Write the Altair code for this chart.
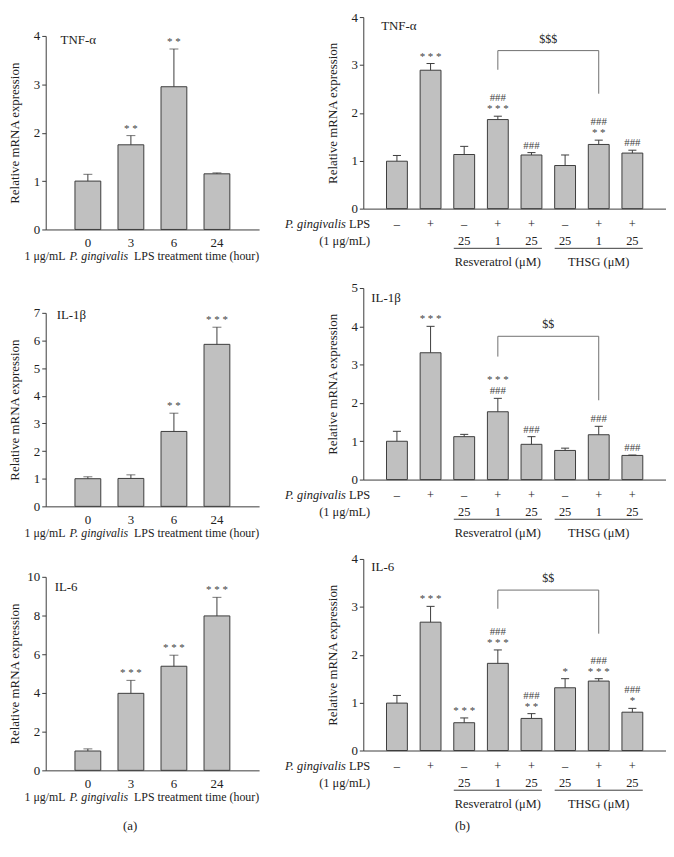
import altair as alt
import pandas as pd

SERIF = "Liberation Serif"
BAR_FILL = "#c0c0c0"
EDGE = "#3c3c3c"
BRACKET = "#707070"
TXT = "#222222"
STAR = "#444444"

# ---------------- data: panel (a) ----------------
left_times = ["0", "3", "6", "24"]

left_tnf_mean = [1.00, 1.75, 2.95, 1.15]
left_tnf_err = [1.14, 1.94, 3.73, 1.17]
left_tnf_sig = ["", "**", "**", ""]

left_il1b_mean = [1.00, 1.01, 2.71, 5.86]
left_il1b_err = [1.07, 1.14, 3.37, 6.48]
left_il1b_sig = ["", "", "**", "***"]

left_il6_mean = [1.00, 3.98, 5.38, 7.98]
left_il6_err = [1.11, 4.65, 5.95, 8.94]
left_il6_sig = ["", "***", "***", "***"]

# ---------------- data: panel (b) ----------------
right_pos = [1, 2, 3, 4, 5, 6, 7, 8]
right_lps = ["–", "+", "–", "+", "+", "–", "+", "+"]
right_dose = ["", "", "25", "1", "25", "25", "1", "25"]
group_names = ["Resveratrol (μM)", "THSG (μM)"]
group_first = [3, 6]
group_last = [5, 8]

right_tnf_mean = [0.99, 2.89, 1.13, 1.86, 1.12, 0.90, 1.34, 1.16]
right_tnf_err = [1.11, 3.03, 1.30, 1.93, 1.17, 1.12, 1.43, 1.22]
right_tnf_sig = ["", "***", "", "###\n***", "###", "", "###\n**", "###"]
right_tnf_bracket = [4, 7, 3.30, 2.90, 2.40, "$$$"]

right_il1b_mean = [1.00, 3.31, 1.12, 1.77, 0.92, 0.76, 1.17, 0.63]
right_il1b_err = [1.26, 4.00, 1.18, 2.12, 1.12, 0.82, 1.39, 0.64]
right_il1b_sig = ["", "***", "", "***\n###", "###", "", "###", "###"]
right_il1b_bracket = [4, 7, 3.74, 3.21, 2.07, "$$"]

right_il6_mean = [0.99, 2.68, 0.58, 1.82, 0.67, 1.31, 1.45, 0.80]
right_il6_err = [1.15, 3.01, 0.68, 2.10, 0.77, 1.50, 1.50, 0.88]
right_il6_sig = ["", "***", "***", "###\n***", "###\n**", "*", "###\n***", "###\n*"]
right_il6_bracket = [4, 7, 3.35, 2.96, 2.44, "$$"]


def spaced(line):
    return " ".join(line) if "*" in line else line


def sig_lines(sigs):
    lo, hi = [], []
    for s in sigs:
        parts = s.split("\n")
        lo.append(spaced(parts[-1]))
        hi.append(spaced(parts[0]) if len(parts) > 1 else "")
    return lo, hi


def y_axis(values, ymid):
    return alt.Axis(values=values, title="Relative mRNA expression", titleX=-31, titleY=ymid,
                    titleAngle=270, titleBaseline="middle", titleAlign="center",
                    titleFont=SERIF, titleFontSize=13, titleFontWeight="normal", titleColor=TXT,
                    labelFont=SERIF, labelFontSize=13, labelColor=TXT, labelPadding=2,
                    tickSize=4, tickColor=EDGE, domainColor=EDGE, grid=False)


def text_at(txt, x, y, size=13, align="left", style="normal", baseline="middle"):
    return alt.Chart(pd.DataFrame({"t": [txt]})).mark_text(
        font=SERIF, fontSize=size, align=align, baseline=baseline, fontStyle=style, color=TXT
    ).encode(x=alt.value(x), y=alt.value(y), text="t:N")


def star_layers(base, X, Yerr):
    lo = base.mark_text(font=SERIF, fontSize=11, color=STAR, baseline="bottom", dy=-2).encode(
        x=X, y=Yerr, text="lo:N")
    hi = base.mark_text(font=SERIF, fontSize=11, color=STAR, baseline="bottom", dy=-13).encode(
        x=X, y=Yerr, text="hi:N")
    return [lo, hi]


def left_panel(label, means, errs, sigs, ymax, ystep, lx, ly, top, ph=195, w=215, tag=None):
    # the panel is 'top' px taller than its plot; the plot occupies the bottom ph px
    H = top + ph
    lo, hi = sig_lines(sigs)
    df = pd.DataFrame({"time": left_times, "mean": means, "err": errs, "lo": lo, "hi": hi})
    xenc = alt.X("time:N", sort=left_times,
                 scale=alt.Scale(paddingInner=0.4, paddingOuter=0.68),
                 axis=alt.Axis(title=None, labelAngle=0, ticks=False, tickSize=0, labelPadding=7,
                               labelFont=SERIF, labelFontSize=13, labelColor=TXT,
                               domainColor=EDGE, grid=False))
    ysc = alt.Scale(domain=[0, ymax], range=[H, top], nice=False)
    yax = y_axis(list(range(0, ymax + 1, ystep)), top + ph / 2)

    def Y(f):
        return alt.Y(f, type="quantitative", scale=ysc, axis=yax)

    base = alt.Chart(df)
    bars = base.mark_bar(fill=BAR_FILL, stroke=EDGE, strokeWidth=1).encode(x=xenc, y=Y("mean"))
    err = base.mark_rule(color=EDGE, strokeWidth=1).encode(x=xenc, y=Y("mean"), y2="err:Q")
    cap = base.mark_tick(color=EDGE, size=9, thickness=1).encode(x=xenc, y=Y("err"))
    layers = [bars, err, cap] + star_layers(base, xenc, Y("err")) + [text_at(label, lx, top + ly)]
    ty = H + 27
    layers += [
        text_at("1 μg/mL", 20, ty, size=12, align="right"),
        text_at("P. gingivalis", 24, ty, size=12, style="italic"),
        text_at("LPS treatment time (hour)", 89, ty, size=12),
    ]
    if tag:
        layers.append(text_at(tag, 85, H + 56, align="center"))
    return alt.layer(*layers).properties(width=w, height=H)


def right_panel(label, means, errs, sigs, bracket, ymax, lx, ly, h=193, w=305, tag=None):
    lo, hi = sig_lines(sigs)
    df = pd.DataFrame({"pos": right_pos, "mean": means, "err": errs, "lo": lo, "hi": hi,
                       "lps": right_lps, "dose": right_dose})
    xsc = alt.Scale(domain=[0, 9], nice=False, zero=False)
    xax = alt.Axis(title=None, labels=False, ticks=False, grid=False, domainColor=EDGE)
    ysc = alt.Scale(domain=[0, ymax], nice=False)
    yax = y_axis(list(range(0, ymax + 1)), h / 2)

    def X(f):
        return alt.X(f, type="quantitative", scale=xsc, axis=xax)

    def Y(f):
        return alt.Y(f, type="quantitative", scale=ysc, axis=yax)

    base = alt.Chart(df)
    bars = base.transform_calculate(bx1="datum.pos - 0.31", bx2="datum.pos + 0.31", b0="0").mark_bar(
        fill=BAR_FILL, stroke=EDGE, strokeWidth=1).encode(x=X("bx1"), x2="bx2:Q", y=Y("mean"), y2="b0:Q")
    err = base.mark_rule(color=EDGE, strokeWidth=1).encode(x=X("pos"), y=Y("mean"), y2="err:Q")
    cap = base.transform_calculate(c1="datum.pos - 0.12", c2="datum.pos + 0.12").mark_rule(
        color=EDGE, strokeWidth=1).encode(x=X("c1"), x2="c2:Q", y=Y("err"))
    lps = base.mark_text(font=SERIF, fontSize=12.5, color=TXT, baseline="middle").encode(
        x=X("pos"), y=alt.value(h + 16), text="lps:N")
    dose = base.mark_text(font=SERIF, fontSize=12.5, color=TXT, baseline="middle").encode(
        x=X("pos"), y=alt.value(h + 33), text="dose:N")

    gdf = pd.DataFrame({"name": group_names, "first": group_first, "last": group_last})
    gbase = alt.Chart(gdf).transform_calculate(
        gx1="datum.first - 0.31", gx2="datum.last + 0.31", gm="(datum.first + datum.last) / 2")
    gline = gbase.mark_rule(color=EDGE, strokeWidth=1).encode(
        x=X("gx1"), x2="gx2:Q", y=alt.value(h + 40))
    glab = gbase.mark_text(font=SERIF, fontSize=12.5, color=TXT, baseline="middle").encode(
        x=X("gm"), y=alt.value(h + 54), text="name:N")

    bdf = pd.DataFrame({"bx": [bracket[0]], "bx2": [bracket[1]], "top": [bracket[2]],
                        "lb": [bracket[3]], "rb": [bracket[4]], "lab": [bracket[5]]})
    bbase = alt.Chart(bdf)
    bh = bbase.mark_rule(color=BRACKET, strokeWidth=1).encode(x=X("bx"), x2="bx2:Q", y=Y("top"))
    bl = bbase.mark_rule(color=BRACKET, strokeWidth=1).encode(x=X("bx"), y=Y("top"), y2="lb:Q")
    br = bbase.mark_rule(color=BRACKET, strokeWidth=1).encode(x=X("bx2"), y=Y("top"), y2="rb:Q")
    bt = bbase.transform_calculate(xm="(datum.bx + datum.bx2) / 2").mark_text(
        font=SERIF, fontSize=12, color=TXT, baseline="bottom", dy=-5).encode(
        x=X("xm"), y=Y("top"), text="lab:N")

    layers = [bars, err, cap] + star_layers(base, X("pos"), Y("err")) + [
        bh, bl, br, bt, lps, dose, gline, glab,
        text_at(label, lx, ly),
        text_at("P. gingivalis", -17.5, h + 16, size=12.5, align="right", style="italic"),
        text_at("LPS", 7, h + 16, size=12.5, align="right"),
        text_at("(1 μg/mL)", 7, h + 33, size=12.5, align="right")]
    if tag:
        layers.append(text_at(tag, 100, h + 76.5, align="center"))
    return alt.layer(*layers).properties(width=w, height=h)


l1 = left_panel("TNF-α", left_tnf_mean, left_tnf_err, left_tnf_sig, 4, 1, 15, 4, top=19)
l2 = left_panel("IL-1β", left_il1b_mean, left_il1b_err, left_il1b_sig, 7, 1, 11, 2, top=84)
l3 = left_panel("IL-6", left_il6_mean, left_il6_err, left_il6_sig, 10, 2, 9, 10, top=71, tag="(a)")

r1 = right_panel("TNF-α", right_tnf_mean, right_tnf_err, right_tnf_sig, right_tnf_bracket, 4, 18, 9)
r2 = right_panel("IL-1β", right_il1b_mean, right_il1b_err, right_il1b_sig, right_il1b_bracket, 5, 8, 10)
r3 = right_panel("IL-6", right_il6_mean, right_il6_err, right_il6_sig, right_il6_bracket, 4, 8, 8, tag="(b)")

left_col = alt.vconcat(l1, l2, l3, spacing=0, bounds="flush")
right_col = alt.vconcat(r1, r2, r3, spacing=80, bounds="flush")

chart = alt.hconcat(left_col, right_col, spacing=24, padding=0).configure_view(stroke=None)

chart.save("out.html", embed_options={"renderer": "svg", "actions": False})
